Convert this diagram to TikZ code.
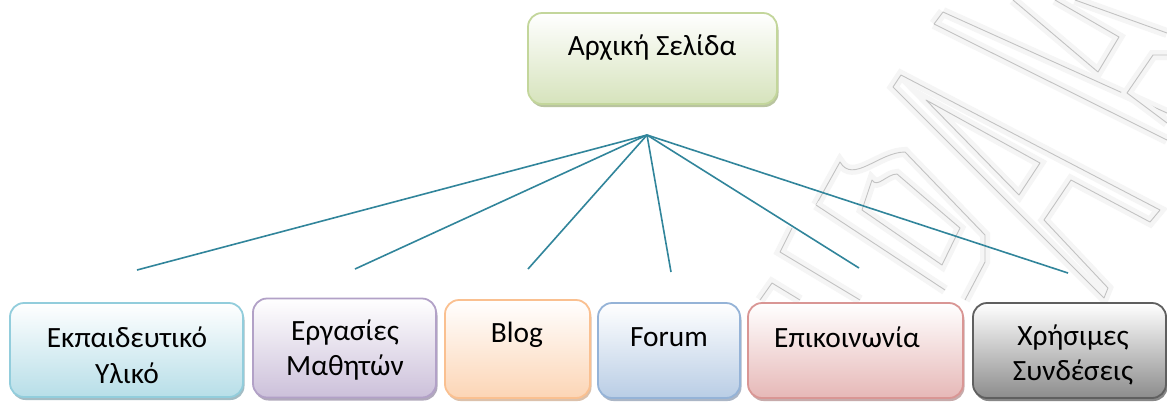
\documentclass[tikz,border=0pt]{standalone}
\usepackage{fontspec}
\setmainfont{Carlito}
\usetikzlibrary{shadows}
\definecolor{lnk}{RGB}{49,133,155}
\definecolor{grB}{RGB}{195,214,155}\definecolor{grF}{RGB}{214,227,188}\definecolor{grS}{RGB}{168,182,136}
\definecolor{cyB}{RGB}{146,205,220}\definecolor{cyF}{RGB}{183,222,232}\definecolor{cyS}{RGB}{140,172,182}
\definecolor{puB}{RGB}{178,161,199}\definecolor{puF}{RGB}{204,192,218}\definecolor{puS}{RGB}{158,148,172}
\definecolor{orB}{RGB}{250,192,144}\definecolor{orF}{RGB}{252,213,181}\definecolor{orS}{RGB}{212,178,150}
\definecolor{blB}{RGB}{149,179,215}\definecolor{blF}{RGB}{185,205,229}\definecolor{blS}{RGB}{150,164,184}
\definecolor{reB}{RGB}{217,150,148}\definecolor{reF}{RGB}{230,184,183}\definecolor{reS}{RGB}{186,150,150}
\definecolor{gyB}{RGB}{95,95,95}\definecolor{gyF}{RGB}{140,140,140}\definecolor{gyS}{RGB}{105,105,105}
\tikzset{
  boxbase/.style={rounded corners=14bp, line width=1.8bp, inner sep=0pt},
  cbox/.style n args={3}{boxbase, draw=#1, top color=white, bottom color=#2,
     drop shadow={shadow xshift=1.5bp, shadow yshift=-3bp, fill=#3, opacity=0.8}},
  lbl/.style={font=\fontsize{29.5}{36}\selectfont, align=center, inner sep=0pt},
  conn/.style={draw=lnk, line width=1.6bp},
  wm/.style={draw=black!24, line width=0.9bp, line join=round,
     preaction={draw=black!4, line width=10bp}}
}
\begin{document}
\begin{tikzpicture}[x=1bp,y=-1bp]
\useasboundingbox (0,0) rectangle (1167,403);
\fill[white] (0,0) rectangle (1167,403);
% watermark
\draw[wm] (943,12) -- (1167,113) (934,24) -- (1167,140) (943,12) -- (934,24);
\draw[wm] (1013,0) -- (1098,72) -- (1119,37) -- (1055,0);
\draw[wm] (1075,0) -- (1167,33);
\draw[wm] (1167,55) -- (1153,55) -- (1127,93) -- (1167,123);
\draw[wm] (901,75) -- (1160,210) -- (1150,222) -- (1071,180) -- (1044,220) -- (1108,288) -- (1104,298) -- (893,87) -- cycle;
\draw[wm] (926,100) -- (1040,163) -- (1019,195) -- cycle;
\draw[wm] (816,205) -- (840,162) to[out=-60,in=180] (905,152) -- (985,235) -- (985,262) -- (965,300);
\draw[wm] (816,205) -- (945,290);
\draw[wm] (862,210) -- (872,180) to[out=-60,in=180] (897,174) -- (960,228) -- (942,265) -- cycle;
\draw[wm] (792,228) -- (780,252) -- (860,300);
\draw[wm] (760,300) -- (772,283) -- (800,300);
% boxes
\node[cbox={grB}{grF}{grS}, minimum width=249bp, minimum height=91bp] (top) at (652.5,58.5) {};
\node[cbox={cyB}{cyF}{cyS}, minimum width=233bp, minimum height=94bp] (b1) at (126.5,350) {};
\node[cbox={puB}{puF}{puS}, minimum width=183bp, minimum height=99bp] (b2) at (344.5,348) {};
\node[cbox={orB}{orF}{orS}, minimum width=145bp, minimum height=98bp] (b3) at (517.5,349) {};
\node[cbox={blB}{blF}{blS}, minimum width=142bp, minimum height=95bp] (b4) at (669,350.5) {};
\node[cbox={reB}{reF}{reS}, minimum width=215bp, minimum height=95bp] (b5) at (855.5,350.5) {};
\node[cbox={gyB}{gyF}{gyS}, minimum width=193bp, minimum height=95bp] (b6) at (1069.5,350.5) {};
% texts
\node[lbl] (t0) at (652,48) {Αρχική Σελίδα};
\node[lbl] (t1) at (127,355) {Εκπαιδευτικό\\Υλικό};
\node[lbl] (t2) at (345,350) {Εργασίες\\Μαθητών};
\node[lbl] (t3) at (517,335) {Blog};
\node[lbl] (t4) at (669,337) {Forum};
\node[lbl] (t5) at (847,337) {Επικοινωνία};
\node[lbl] (t6) at (1073,355) {Χρήσιμες\\Συνδέσεις};
% connectors
\coordinate (hub) at (647,135);
\coordinate (e1) at (137,270);
\coordinate (e2) at (355,269);
\coordinate (e3) at (528,269);
\coordinate (e4) at (671,272);
\coordinate (e5) at (859,268);
\coordinate (e6) at (1068,273);
\foreach \e in {e1,e2,e3,e4,e5,e6} \draw[conn] (hub) -- (\e);
\end{tikzpicture}
\end{document}
